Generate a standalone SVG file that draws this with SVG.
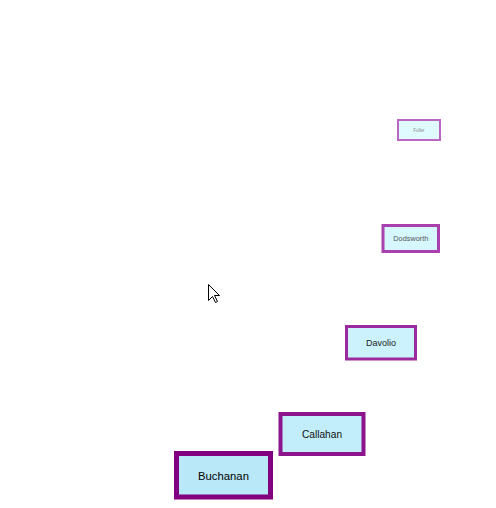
<svg xmlns="http://www.w3.org/2000/svg" width="496" height="508" viewBox="0 0 496 508">
<style>
.node text{font-family:"Liberation Sans",Arial,sans-serif;text-anchor:middle;dominant-baseline:central}
</style>
<rect width="496" height="508" fill="#ffffff"/>
<g id="connectors"></g>
<g id="fuller" class="node">
<rect x="398" y="120" width="42" height="20" fill="#e0fbff" stroke="#bc66c3" stroke-width="2"/>
<text x="419" y="130" font-size="4.5" fill="#8a8a8a">Fuller</text>
</g>
<g id="dodsworth" class="node">
<rect x="383" y="225.5" width="55.5" height="26" fill="#d6f7fe" stroke="#a940ad" stroke-width="3"/>
<text x="410.8" y="238.5" font-size="7.3" fill="#555">Dodsworth</text>
</g>
<g id="davolio" class="node">
<rect x="346.5" y="326.5" width="69" height="32.5" fill="#ccf3fd" stroke="#9b2a9e" stroke-width="3"/>
<text x="381" y="343" font-size="9" fill="#222">Davolio</text>
</g>
<g id="callahan" class="node">
<rect x="280.5" y="414" width="83" height="40" fill="#c2eefb" stroke="#8c148c" stroke-width="4"/>
<text x="322" y="434.5" font-size="10.2" fill="#111">Callahan</text>
</g>
<g id="buchanan" class="node">
<rect x="176.5" y="453.5" width="94" height="43.5" fill="#b9e8f8" stroke="#800080" stroke-width="5"/>
<text x="223.5" y="475.5" font-size="11.3" fill="#000">Buchanan</text>
</g>
<path id="cursor" d="M208.5 284.5 V300.5 L212.5 296.5 L215.5 302.5 L217.5 301.5 L214.5 295.5 L219.5 295.5 Z" fill="#ffffff" stroke="#000000" stroke-width="1" stroke-linejoin="miter"/>
</svg>
